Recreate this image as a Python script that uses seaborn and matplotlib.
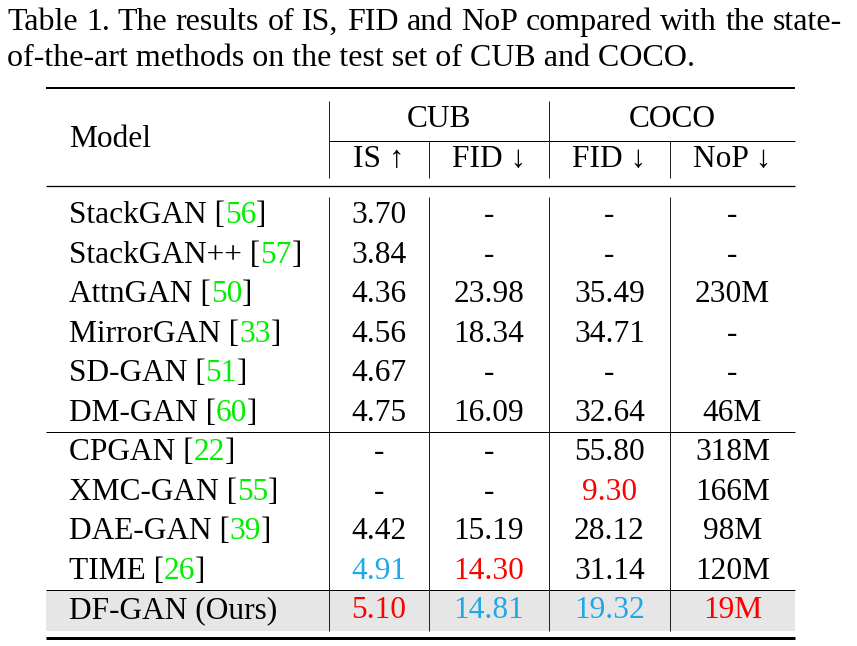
import matplotlib
matplotlib.use("Agg")
import matplotlib.pyplot as plt
import seaborn as sns
import pandas as pd

# ---------------- data ----------------
caption_line1 = "Table 1. The results of IS, FID and NoP compared with the state-"
caption_line2 = "of-the-art methods on the test set of CUB and COCO."
group_labels = ["CUB", "COCO"]
metric_labels = ["IS \u2191", "FID \u2193", "FID \u2193", "NoP \u2193"]
models = ["StackGAN", "StackGAN++", "AttnGAN", "MirrorGAN", "SD-GAN", "DM-GAN",
          "CPGAN", "XMC-GAN", "DAE-GAN", "TIME", "DF-GAN (Ours)"]
citations = ["56", "57", "50", "33", "51", "60", "22", "55", "39", "26", ""]
cub_is = ["3.70", "3.84", "4.36", "4.56", "4.67", "4.75", "-", "-", "4.42", "4.91", "5.10"]
cub_fid = ["-", "-", "23.98", "18.34", "-", "16.09", "-", "-", "15.19", "14.30", "14.81"]
coco_fid = ["-", "-", "35.49", "34.71", "-", "32.64", "55.80", "9.30", "28.12", "31.14", "19.32"]
coco_nop = ["-", "-", "230M", "-", "-", "46M", "318M", "166M", "98M", "120M", "19M"]
# highlight: 1 = best (red), 2 = second best (blue), 0 = plain
cub_is_rank = [0, 0, 0, 0, 0, 0, 0, 0, 0, 2, 1]
cub_fid_rank = [0, 0, 0, 0, 0, 0, 0, 0, 0, 1, 2]
coco_fid_rank = [0, 0, 0, 0, 0, 0, 0, 1, 0, 0, 2]
coco_nop_rank = [0, 0, 0, 0, 0, 0, 0, 0, 0, 0, 1]

RED = "#ff0000"
BLUE = "#1fa7e6"
GREEN = "#00ee00"
rank_color = {0: "black", 1: RED, 2: BLUE}

df = pd.DataFrame({"model": models, "cite": citations,
                   "cub_is": cub_is, "cub_fid": cub_fid,
                   "coco_fid": coco_fid, "coco_nop": coco_nop})

# ---------------- figure ----------------
sns.set_theme(style="white")
plt.rcParams['font.family'] = ['Liberation Serif', 'DejaVu Serif']

W, H = 857, 646
fig = plt.figure(figsize=(W / 100, H / 100), dpi=100)
fig.patch.set_facecolor("white")
ax = fig.add_axes([0, 0, 1, 1])
ax.set_xlim(0, W)
ax.set_ylim(H, 0)
ax.axis("off")
fig.canvas.draw()
renderer = fig.canvas.get_renderer()

FS = 22.6      # table font size (pt)
CFS = 23.0     # caption font size (pt)


def text_width(s, fs):
    t = ax.text(0, 0, s, fontsize=fs)
    w = t.get_window_extent(renderer).width
    t.remove()
    return w


def draw_parts(x, y, parts, fs):
    """left aligned sequence of (string, colour) pieces on a baseline"""
    prefix = ""
    for s, c in parts:
        off = text_width(prefix, fs) if prefix else 0.0
        ax.text(x + off, y, s, fontsize=fs, color=c, ha="left", va="baseline")
        prefix += s


# caption line 1 (justified)
words = caption_line1.split(" ")
widths = [text_width(wd, CFS) for wd in words]
x0, x1 = 7, 842
gap = (x1 - x0 - sum(widths)) / (len(words) - 1)
x = x0
for wd, w in zip(words, widths):
    ax.text(x, 30, wd, fontsize=CFS, ha="left", va="baseline", color="black")
    x += w + gap
ax.text(7, 66, caption_line2, fontsize=CFS, ha="left", va="baseline", color="black")

# table geometry
L, R = 46.5, 795
vx = [329, 429, 549, 670]
col_centers = [379, 489, 609.5, 732.5]
row_y0, row_dy = 223.3, 39.5

# grey background of our row
ax.fill_between([L, R], 590, 630.7, color="#e6e6e6", lw=0, zorder=0)

# horizontal rules
px = 0.72
ax.hlines(88, L, R, color="black", lw=2.0 * px)
ax.hlines(140.7, vx[0], R, color="black", lw=1.0 * px)
ax.hlines(186, L, R, color="black", lw=1.3 * px)
ax.hlines(432.3, L, R, color="black", lw=1.0 * px)
ax.hlines(590, L, R, color="black", lw=1.0 * px)
ax.hlines(638, L, R, color="black", lw=3.0 * px)

# vertical rules
ax.vlines([vx[0], vx[2]], 100.7, 178, color="#222222", lw=1.0 * px)
ax.vlines([vx[1], vx[3]], 140.7, 178, color="#222222", lw=1.0 * px)
ax.vlines(vx, 196.7, 630.7, color="#222222", lw=1.0 * px)

# header
ax.text(69, 146.7, "Model", fontsize=FS, ha="left", va="baseline", color="black")
ax.text((vx[0] + vx[2]) / 2, 127.3, group_labels[0], fontsize=FS, ha="center",
        va="baseline", color="black")
ax.text((vx[2] + R) / 2, 127.3, group_labels[1], fontsize=FS, ha="center",
        va="baseline", color="black")
for cx, lab in zip(col_centers, metric_labels):
    ax.text(cx, 167.3, lab, fontsize=FS, ha="center", va="baseline", color="black")

# body
value_cols = ["cub_is", "cub_fid", "coco_fid", "coco_nop"]
ranks = [cub_is_rank, cub_fid_rank, coco_fid_rank, coco_nop_rank]
for i, row in df.iterrows():
    y = row_y0 + i * row_dy
    if row["cite"]:
        draw_parts(69, y, [(row["model"] + " [", "black"), (row["cite"], GREEN),
                           ("]", "black")], FS)
    else:
        draw_parts(69, y, [(row["model"], "black")], FS)
    for cx, col, rk in zip(col_centers, value_cols, ranks):
        ax.text(cx, y, row[col], fontsize=FS, ha="center", va="baseline",
                color=rank_color[rk[i]])

fig.savefig("out.png", dpi=100, facecolor="white")
